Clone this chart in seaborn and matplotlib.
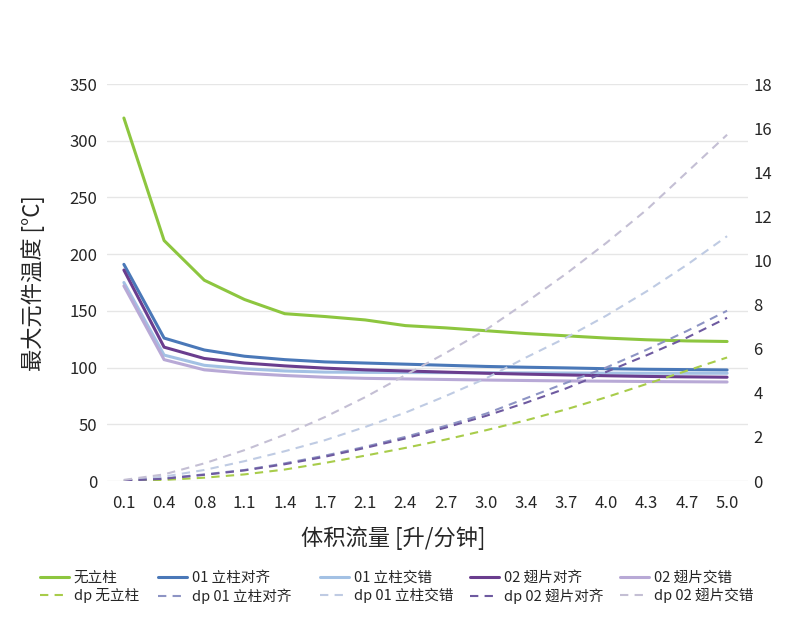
import numpy as np
import matplotlib
matplotlib.use('Agg')
import matplotlib.pyplot as plt
from matplotlib.lines import Line2D
import seaborn as sns

# ---------------- data ----------------
flow = ['0.1', '0.4', '0.8', '1.1', '1.4', '1.7', '2.1', '2.4', '2.7', '3.0',
        '3.4', '3.7', '4.0', '4.3', '4.7', '5.0']

temp_none = [320, 212, 177, 160, 147.5, 145, 142, 137, 135, 132.5, 130, 128, 126, 124.5, 123.5, 123]
temp_01_align = [191, 126, 115.5, 110, 107, 105, 104, 103, 102, 101, 100.3, 99.7, 99, 98.5, 98.2, 97.9]
temp_01_stag = [175, 111, 102, 99, 97, 96, 95.8, 95.6, 95.5, 95.4, 95.3, 95.2, 95.1, 95, 95, 95]
temp_02_align = [186, 118, 108, 104, 101.5, 99.5, 98, 97, 96, 95, 94.2, 93.5, 92.8, 92.2, 91.8, 91.5]
temp_02_stag = [172, 107, 98, 95, 93, 91.5, 90.5, 90, 89.5, 89, 88.6, 88.2, 88, 87.7, 87.5, 87.3]

dp_none = [0.0, 0.05, 0.15, 0.3, 0.52, 0.82, 1.15, 1.5, 1.88, 2.3, 2.75, 3.25, 3.8, 4.4, 5.0, 5.6]
dp_01_align = [0.02, 0.12, 0.3, 0.5, 0.8, 1.15, 1.55, 2.0, 2.5, 3.05, 3.75, 4.45, 5.15, 5.95, 6.8, 7.72]
dp_01_stag = [0.03, 0.2, 0.5, 0.9, 1.35, 1.85, 2.45, 3.1, 3.85, 4.65, 5.6, 6.5, 7.5, 8.6, 9.8, 11.1]
dp_02_align = [0.02, 0.1, 0.28, 0.48, 0.76, 1.1, 1.5, 1.93, 2.42, 2.95, 3.55, 4.2, 4.95, 5.7, 6.5, 7.4]
dp_02_stag = [0.05, 0.3, 0.8, 1.4, 2.1, 2.9, 3.8, 4.8, 5.8, 6.85, 8.1, 9.4, 10.8, 12.3, 14.0, 15.7]

solid_names = ['无立柱', '01 立柱对齐', '01 立柱交错', '02 翅片对齐', '02 翅片交错']
dp_names = ['dp 无立柱', 'dp 01 立柱对齐', 'dp 01 立柱交错', 'dp 02 翅片对齐', 'dp 02 翅片交错']

left_ticks = [0, 50, 100, 150, 200, 250, 300, 350]
right_ticks = [0, 2, 4, 6, 8, 10, 12, 14, 16, 18]

# ---------------- style ----------------
sns.set_theme(style='white')
plt.rcParams['font.family'] = ['Noto Sans CJK SC', 'DejaVu Sans']

solid_vals = [temp_none, temp_01_align, temp_01_stag, temp_02_align, temp_02_stag]
dp_vals = [dp_none, dp_01_align, dp_01_stag, dp_02_align, dp_02_stag]
solid_colors = ['#8dc63f', '#4a78b8', '#a3c1e4', '#6a3d8e', '#b8a9d6']
dp_colors = ['#a8cc4a', '#8d94c4', '#bfcbe3', '#6e5aa0', '#c4bfd4']

fig = plt.figure(figsize=(7.96, 6.22), dpi=100)
ax = fig.add_axes([107 / 796, 1 - 481 / 622, (748 - 107) / 796, (481 - 84) / 622])
ax2 = ax.twinx()

idx = np.arange(len(flow))

for vals, c in zip(solid_vals, solid_colors):
    sns.lineplot(x=idx, y=vals, ax=ax, color=c, linewidth=2.2, legend=False)
for vals, c in zip(dp_vals, dp_colors):
    sns.lineplot(x=idx, y=vals, ax=ax2, color=c, linewidth=1.5,
                 linestyle=(0, (4, 3)), legend=False)

ax.set_xlim(-0.42, 15.52)
ax.set_ylim(0, 350)
ax2.set_ylim(0, 18)
ax.set_xticks(idx)
ax.set_xticklabels(flow)
ax.set_yticks(left_ticks)
ax2.set_yticks(right_ticks)

ax.yaxis.grid(True, color='#e6e6e6', linewidth=1)
ax.xaxis.grid(False)
ax2.grid(False)
for a in (ax, ax2):
    for s in a.spines.values():
        s.set_visible(False)
    a.set_xlabel('')
    a.set_ylabel('')

ax.tick_params(axis='x', length=0, pad=10, labelsize=12, labelcolor='#262626')
ax.tick_params(axis='y', length=0, pad=7, labelsize=12, labelcolor='#262626')
ax2.tick_params(axis='y', length=0, pad=4, labelsize=12, labelcolor='#262626')

fig.text(393 / 796, 1 - 538 / 622, '体积流量 [升/分钟]', ha='center', va='center',
         fontsize=16, color='#262626')
fig.text(33 / 796, 1 - 283 / 622, '最大元件温度 [°C]', ha='center', va='center',
         rotation=90, fontsize=16, color='#262626')

# ---------------- legend (five two-row columns) ----------------
col_x = [40, 158, 320, 470, 620]
for i in range(5):
    handles = [Line2D([0], [0], color=solid_colors[i], linewidth=2.2),
               Line2D([0], [0], color=dp_colors[i], linewidth=1.5, linestyle=(0, (4, 3)))]
    leg = fig.legend(handles, [solid_names[i], dp_names[i]],
                     loc='upper left', bbox_to_anchor=(col_x[i] / 796, 1 - 571 / 622),
                     frameon=False, fontsize=10.5, handlelength=2.0, handletextpad=0.3,
                     borderpad=0, borderaxespad=0, labelspacing=0.22)
    for t in leg.get_texts():
        t.set_color('#262626')

fig.savefig('out.png', dpi=100)
